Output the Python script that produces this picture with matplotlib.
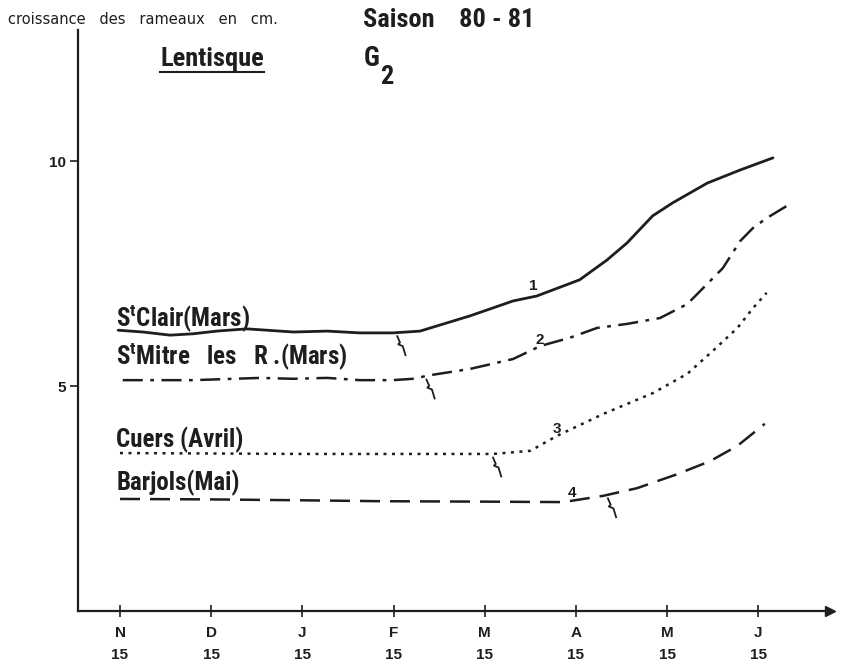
import matplotlib
matplotlib.use("Agg")
import matplotlib.pyplot as plt
from matplotlib.lines import Line2D
import numpy as np

# ---- data (months since 15 Nov; growth in cm) ----
month_letters = ["N", "D", "J", "F", "M", "A", "M", "J"]
month_days = ["15"] * 8

clair_x = [-0.02, 0.25, 0.55, 0.80, 1.06, 1.39, 1.61, 1.90, 2.27, 2.63, 2.99, 3.29, 3.84, 4.31, 4.57,
           5.04, 5.34, 5.56, 5.84, 6.06, 6.44, 6.80, 7.16]
clair_y = [6.24, 6.20, 6.13, 6.16, 6.22, 6.27, 6.24, 6.20, 6.22, 6.18, 6.18, 6.22, 6.56, 6.89, 7.00,
           7.36, 7.80, 8.18, 8.78, 9.07, 9.51, 9.80, 10.07]

mitre_x = [0.03, 0.80, 1.54, 1.90, 2.27, 2.63, 2.99, 3.21, 3.40, 3.84, 4.31, 4.61, 4.93, 5.23, 5.56,
           5.92, 6.22, 6.44, 6.61, 6.80, 6.94, 7.09, 7.31]
mitre_y = [5.13, 5.13, 5.18, 5.16, 5.18, 5.13, 5.13, 5.16, 5.24, 5.38, 5.60, 5.89, 6.07, 6.29, 6.38,
           6.51, 6.82, 7.27, 7.62, 8.22, 8.51, 8.73, 9.00]

cuers_x = [0.00, 1.00, 2.00, 3.00, 4.09, 4.50, 4.79, 5.30, 5.84, 6.22, 6.50, 6.77, 6.94, 7.09]
cuers_y = [3.51, 3.50, 3.49, 3.49, 3.49, 3.56, 3.89, 4.38, 4.84, 5.27, 5.78, 6.29, 6.73, 7.07]

barjols_x = [0.00, 1.00, 2.00, 2.85, 4.00, 4.86, 5.30, 5.67, 6.11, 6.47, 6.77, 7.07]
barjols_y = [2.49, 2.48, 2.46, 2.44, 2.43, 2.42, 2.56, 2.73, 3.04, 3.33, 3.67, 4.16]

series_labels = [r"S$^{\mathregular{t}}$Clair(Mars)", r"S$^{\mathregular{t}}$Mitre   les   R .(Mars)",
                 "Cuers (Avril)", "Barjols(Mai)"]
series_numbers = ["1", "2", "3", "4"]
break_x = [3.04, 3.36, 4.09, 5.35]

ink = "#1e1e1e"
COND = ["Roboto Condensed", "DejaVu Sans"]
HELV = ["Liberation Sans", "DejaVu Sans"]
plt.rcParams["font.family"] = COND
plt.rcParams["mathtext.fontset"] = "custom"

fig = plt.figure(figsize=(8.42, 6.65), dpi=100)
ax = fig.add_axes([78/842, 1 - 611/665, (830 - 78)/842, (611 - 30)/665])
ax.set_xlim((78 - 120)/91.2, (830 - 120)/91.2)
ax.set_ylim(0, (611 - 30)/45)

for s in ["top", "right"]:
    ax.spines[s].set_visible(False)
for s in ["left", "bottom"]:
    ax.spines[s].set_linewidth(1.6)
    ax.spines[s].set_color(ink)

# arrows
ax.plot(1, 0, ">", transform=ax.get_yaxis_transform(), clip_on=False, color=ink, ms=7)
ax.plot(0, (611 - 62)/45, "^", transform=ax.get_xaxis_transform(), clip_on=False, color=ink, ms=5)

# ticks
ax.set_xticks(range(8))
ax.set_xticklabels([f"{a}\n{b}" for a, b in zip(month_letters, month_days)],
                   fontsize=11, fontweight="bold", color=ink, linespacing=1.7, family=HELV)
ax.tick_params(axis="x", direction="inout", length=8, width=1.2, color=ink, pad=7)
ax.set_yticks([5, 10])
ax.set_yticklabels(["5", "10"], fontsize=11, fontweight="bold", color=ink, family=HELV)
ax.tick_params(axis="y", direction="out", length=6, width=1.2, color=ink, pad=3)

# curves
ax.plot(clair_x, clair_y, color=ink, lw=2.0, solid_capstyle="round", solid_joinstyle="round")
ax.plot(mitre_x, mitre_y, color=ink, lw=1.8, dashes=(8, 3, 1.5, 3))
ax.plot(cuers_x, cuers_y, color=ink, lw=1.8, dashes=(1.2, 2.2))
ax.plot(barjols_x, barjols_y, color=ink, lw=1.8, dashes=(8, 4))

# break marks under each curve
all_x = [clair_x, mitre_x, cuers_x, barjols_x]
all_y = [clair_y, mitre_y, cuers_y, barjols_y]
for bx, xs, ys in zip(break_x, all_x, all_y):
    y0 = np.interp(bx, xs, ys)
    ax.plot([bx, bx + 0.03, bx + 0.01, bx + 0.06, bx + 0.09],
            [y0 - 0.08, y0 - 0.22, y0 - 0.26, y0 - 0.30, y0 - 0.50],
            color=ink, lw=1.3)

# curve numbers
num_pos = [(4.53, 7.22), (4.60, 6.02), (4.79, 4.04), (4.96, 2.62)]
for n, (nx, ny) in zip(series_numbers, num_pos):
    ax.text(nx, ny, n, fontsize=11, fontweight="bold", color=ink, ha="center", va="center",
            family=HELV)

# series labels
lab_y = [6.52, 5.66, 3.80, 2.84]
for lab, ly in zip(series_labels, lab_y):
    ax.text(-0.04, ly, lab, fontsize=18, fontweight="bold", color=ink, ha="left", va="center")

# header texts
fig.text(8/842, 1 - 19/665, "croissance   des   rameaux   en   cm.", fontsize=10.5,
         color=ink, family=["DejaVu Sans"], va="center", ha="left")
fig.text(363/842, 1 - 20/665, "Saison    80 - 81", fontsize=19, fontweight="bold",
         color=ink, va="center", ha="left")
t = fig.text(160/842, 1 - 59/665, "Lentisque", fontsize=19, fontweight="bold",
             color=ink, va="center", ha="left")
fig.text(364/842, 1 - 58/665, "G", fontsize=19.5, fontweight="bold",
         color=ink, va="center", ha="left", family=COND)
fig.text(380/842, 1 - 77/665, "2", fontsize=19, fontweight="bold",
         color=ink, va="center", ha="left", family=COND)

fig.canvas.draw()
bb = t.get_window_extent()
yl = (bb.y0 - 1) / fig.bbox.height
fig.add_artist(Line2D([bb.x0 / fig.bbox.width, bb.x1 / fig.bbox.width], [yl, yl],
                      color=ink, lw=1.5, transform=fig.transFigure))

fig.savefig("out.png", dpi=100, facecolor="white")
